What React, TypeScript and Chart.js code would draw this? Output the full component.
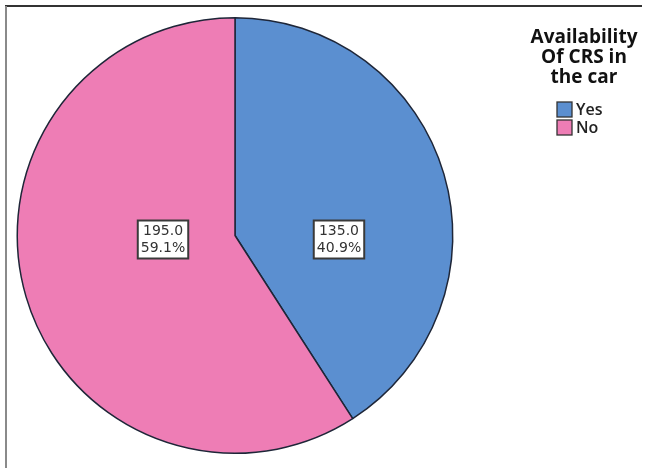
import React, { useEffect, useRef } from "react";
import { Chart, registerables } from "chart.js";

Chart.register(...registerables);

const categories = ["Yes", "No"];
const counts = [135, 195];
const sliceColors = ["#5b8fd0", "#ee7db5"];
const legendTitle = ["Availability", "Of CRS in", "the car"];

const framePlugin = {
  id: "frame",
  beforeDraw(chart: any) {
    const ctx = chart.ctx;
    ctx.save();
    ctx.fillStyle = "#ffffff";
    ctx.fillRect(0, 0, chart.width, chart.height);
    ctx.strokeStyle = "#333333";
    ctx.lineWidth = 2;
    ctx.beginPath();
    ctx.moveTo(5, 6);
    ctx.lineTo(642, 6);
    ctx.stroke();
    ctx.strokeStyle = "#8a8a8a";
    ctx.beginPath();
    ctx.moveTo(6, 6);
    ctx.lineTo(6, chart.height);
    ctx.stroke();
    ctx.restore();
  },
};

const labelPlugin = {
  id: "sliceLabels",
  afterDatasetsDraw(chart: any) {
    const ctx = chart.ctx;
    const meta = chart.getDatasetMeta(0);
    const data = chart.data.datasets[0].data as number[];
    const total = data.reduce((a, b) => a + b, 0);
    ctx.save();
    ctx.font = "14px 'DejaVu Sans'";
    ctx.textAlign = "center";
    ctx.textBaseline = "middle";
    meta.data.forEach((arc: any, i: number) => {
      const { x, y, startAngle, endAngle, outerRadius } = arc.getProps(
        ["x", "y", "startAngle", "endAngle", "outerRadius"],
        true
      );
      const theta = endAngle - startAngle;
      const mid = (startAngle + endAngle) / 2;
      const d = (4 * outerRadius * Math.sin(theta / 2)) / (3 * theta);
      const lx = x + Math.cos(mid) * d;
      const ly = y + 4;
      const l1 = data[i].toFixed(1);
      const l2 = ((data[i] / total) * 100).toFixed(1) + "%";
      const w = Math.max(ctx.measureText(l1).width, ctx.measureText(l2).width) + 6;
      const h = 38;
      ctx.fillStyle = "#ffffff";
      ctx.fillRect(lx - w / 2, ly - h / 2, w, h);
      ctx.strokeStyle = "#3a3a3a";
      ctx.lineWidth = 2;
      ctx.strokeRect(lx - w / 2, ly - h / 2, w, h);
      ctx.fillStyle = "#333333";
      ctx.fillText(l1, lx, ly - 8);
      ctx.fillText(l2, lx, ly + 9);
    });
    ctx.restore();
  },
};

const legendPlugin = {
  id: "customLegend",
  afterDraw(chart: any) {
    const ctx = chart.ctx;
    ctx.save();
    const cx = 584;
    ctx.fillStyle = "#111111";
    ctx.textAlign = "center";
    ctx.textBaseline = "middle";
    ctx.font = "bold 19px 'Open Sans'";
    legendTitle.forEach((t, i) => {
      ctx.fillText(t, cx, 38 + i * 20);
    });
    const labels = chart.data.labels as string[];
    const colors = chart.data.datasets[0].backgroundColor as string[];
    ctx.font = "600 16px 'Open Sans'";
    ctx.textAlign = "left";
    labels.forEach((lab, i) => {
      const by = 102 + i * 18;
      ctx.fillStyle = colors[i];
      ctx.fillRect(557, by, 15, 15);
      ctx.strokeStyle = "#333333";
      ctx.lineWidth = 1.3;
      ctx.strokeRect(557, by, 15, 15);
      ctx.fillStyle = "#222222";
      ctx.fillText(lab, 576, by + 8);
    });
    ctx.restore();
  },
};

export default function App() {
  const ref = useRef<HTMLCanvasElement>(null);
  useEffect(() => {
    document.body.style.margin = "0";
    if (!ref.current) return;
    const chart = new Chart(ref.current, {
      type: "pie",
      data: {
        labels: categories,
        datasets: [
          {
            data: counts,
            backgroundColor: sliceColors,
            borderColor: "#1e2638",
            borderWidth: 1.5,
          },
        ],
      },
      options: {
        responsive: false,
        animation: false,
        devicePixelRatio: 1,
        layout: { padding: { left: 16, right: 192, top: 17, bottom: 14 } },
        plugins: {
          legend: { display: false },
          tooltip: { enabled: false },
        },
      },
      plugins: [framePlugin, labelPlugin, legendPlugin],
    });
    return () => chart.destroy();
  }, []);
  return <canvas ref={ref} width={646} height={468} style={{ display: "block" }} />;
}
